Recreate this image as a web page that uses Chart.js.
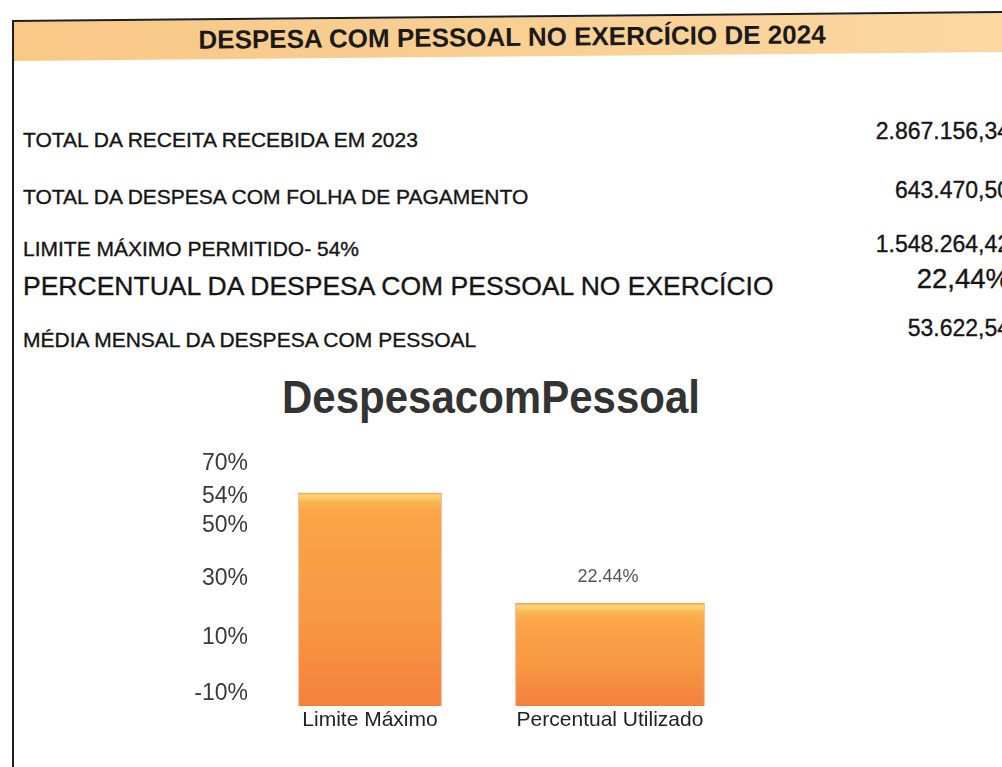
<!DOCTYPE html>
<html lang="pt-BR">
<head>
<meta charset="utf-8">
<title>Despesa com Pessoal 2024</title>
<script src="https://cdn.jsdelivr.net/npm/chart.js@4.4.1/dist/chart.umd.min.js"></script>
<style>
    html, body {
        margin: 0;
        padding: 0;
        width: 1002px;
        height: 767px;
        overflow: hidden;
        background: #fff;
    }
    .page {
        position: relative;
        width: 1002px;
        height: 767px;
        font-family: 'Liberation Sans', Arial, sans-serif;
        color: #151515;
    }
    .frame {
        position: absolute;
        left: 0;
        top: 0;
    }
    .header-text {
        position: absolute;
        left: 0;
        width: 1024px;
        top: 22px;
        text-align: center;
        font-weight: bold;
        font-size: 26px;
        color: #1a1a1a;
        transform: rotate(-0.5deg);
    }
    .row {
        position: absolute;
        left: 23px;
        white-space: nowrap;
        font-size: 21px;
        -webkit-text-stroke: 0.35px #151515;
    }
    .row.big {
        font-size: 26.5px;
    }
    .val {
        position: absolute;
        right: -8px;
        white-space: nowrap;
        font-size: 23px;
        -webkit-text-stroke: 0.35px #151515;
    }
    .val.big {
        font-size: 27.5px;
    }
    .chart-title {
        position: absolute;
        left: 0;
        width: 982px;
        top: 374px;
        text-align: center;
        font-weight: bold;
        font-size: 42px;
        color: #333;
        transform: scaleY(1.1);
    }
    #chart {
        position: absolute;
        left: 160px;
        top: 430px;
    }
</style>
</head>
<body>
<div class="page">
    <svg class="frame" width="1002" height="767">
        <defs>
            <linearGradient id="band" x1="0" y1="0" x2="1" y2="0">
                <stop offset="0" stop-color="#f8c886"/>
                <stop offset="0.5" stop-color="#f9cf92"/>
                <stop offset="1" stop-color="#fbd7a2"/>
            </linearGradient>
        </defs>
        <polygon points="14,22 1002,13 1002,52 14,61" fill="url(#band)"/>
        <line x1="13" y1="21" x2="1002" y2="12" stroke="#1e1e1e" stroke-width="2"/>
        <line x1="13" y1="20" x2="13" y2="767" stroke="#1e1e1e" stroke-width="2"/>
    </svg>
    <div class="header-text">DESPESA COM PESSOAL NO EXERCÍCIO DE 2024</div>

    <div class="row" style="top:128px">TOTAL DA RECEITA RECEBIDA EM 2023</div>
    <div class="val" style="top:118px">2.867.156,34</div>

    <div class="row" style="top:185px">TOTAL DA DESPESA COM FOLHA DE PAGAMENTO</div>
    <div class="val" style="top:177px">643.470,50</div>

    <div class="row" style="top:237px">LIMITE MÁXIMO PERMITIDO- 54%</div>
    <div class="val" style="top:231px">1.548.264,42</div>

    <div class="row big" style="top:271px">PERCENTUAL DA DESPESA COM PESSOAL NO EXERCÍCIO</div>
    <div class="val big" style="top:263px">22,44%</div>

    <div class="row" style="top:328px">MÉDIA MENSAL DA DESPESA COM PESSOAL</div>
    <div class="val" style="top:315px">53.622,54</div>

    <div class="chart-title">DespesacomPessoal</div>
    <canvas id="chart" width="600" height="310"></canvas>
</div>

<script>
    // Chart data
    const categories = ['Limite Máximo', 'Percentual Utilizado'];
    const limiteValues = [54, null];
    const utilizadoValues = [null, 22.44];

    // Axis range and where each tick label sits on the value axis (as printed)
    const yMin = -6.9;
    const yMax = 67.4;
    const yTickLabels = ['70%', '54%', '50%', '30%', '10%', '-10%'];
    const yTickAt = [62.3, 52.9, 44.5, 29.6, 12.6, -3.4];

    const ctx = document.getElementById('chart');

    // Orange bar fill with a light band on top, like the Excel bevel
    function barFill(context) {
        const chart = context.chart;
        const area = chart.chartArea;
        if (!area) return '#f9a04c';
        const value = context.raw;
        if (value === null || value === undefined) return '#f9a04c';
        const yScale = chart.scales.y;
        const top = yScale.getPixelForValue(value);
        const bottom = yScale.getPixelForValue(yMin);
        const h = Math.max(bottom - top, 1);
        const g = chart.ctx.createLinearGradient(0, top, 0, bottom);
        g.addColorStop(0, '#f9ae48');
        g.addColorStop(Math.min(3 / h, 1), '#fdd676');
        g.addColorStop(Math.min(9 / h, 1), '#fbb552');
        g.addColorStop(Math.min(20 / h, 1), '#faa548');
        g.addColorStop(0.6, '#f89843');
        g.addColorStop(1, '#f4803c');
        return g;
    }

    // Value label over the second bar
    const valueLabel = {
        id: 'valueLabel',
        afterDatasetsDraw(chart) {
            const meta = chart.getDatasetMeta(1);
            const bar = meta.data[1];
            if (!bar) return;
            const c = chart.ctx;
            c.save();
            c.font = '18px "Liberation Sans", Arial, sans-serif';
            c.fillStyle = '#555';
            c.textAlign = 'center';
            c.textBaseline = 'bottom';
            c.fillText(utilizadoValues[1].toFixed(2) + '%', bar.x - 2, bar.y - 17);
            c.restore();
        }
    };

    new Chart(ctx, {
        type: 'bar',
        data: {
            labels: categories,
            datasets: [{
                label: 'Limite Máximo',
                data: limiteValues,
                base: yMin,
                grouped: false,
                barThickness: 143,
                backgroundColor: barFill,
                borderColor: 'rgba(232, 122, 62, 0.7)',
                borderWidth: 1
            }, {
                label: 'Percentual Utilizado',
                data: utilizadoValues,
                base: yMin,
                grouped: false,
                barThickness: 189,
                backgroundColor: barFill,
                borderColor: 'rgba(232, 122, 62, 0.7)',
                borderWidth: 1
            }]
        },
        options: {
            responsive: false,
            devicePixelRatio: 1,
            animation: false,
            layout: {
                padding: { top: 8, right: 30, left: 0, bottom: 0 }
            },
            plugins: {
                legend: { display: false },
                tooltip: { enabled: false },
                title: { display: false }
            },
            scales: {
                x: {
                    type: 'category',
                    grid: { display: false, drawTicks: false },
                    border: { display: false },
                    ticks: {
                        color: '#222',
                        padding: 2,
                        maxRotation: 0,
                        font: { family: '"Liberation Sans", Arial, sans-serif', size: 21 }
                    },
                    afterFit(scale) {
                        scale.height = 34;
                    }
                },
                y: {
                    min: yMin,
                    max: yMax,
                    grid: { display: false, drawTicks: false },
                    border: { display: false },
                    afterBuildTicks(scale) {
                        scale.ticks = yTickAt.map(v => ({ value: v }));
                    },
                    ticks: {
                        color: '#3a3a3a',
                        padding: 2,
                        font: { family: '"Liberation Sans", Arial, sans-serif', size: 23 },
                        callback: function (value, index) {
                            return yTickLabels[index];
                        }
                    },
                    afterFit(scale) {
                        scale.width = 90;
                    }
                }
            }
        },
        plugins: [valueLabel]
    });
</script>
</body>
</html>
